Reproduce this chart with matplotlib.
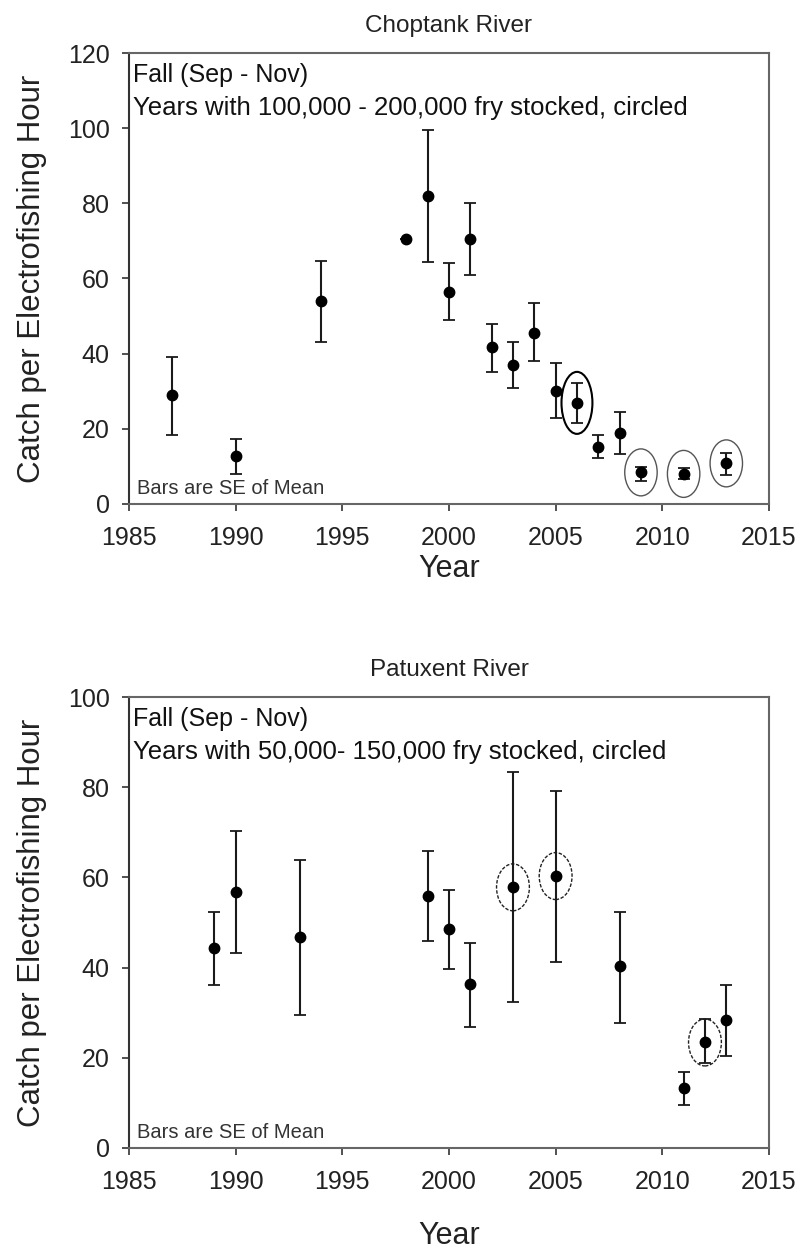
import numpy as np
import matplotlib
matplotlib.use("Agg")
import matplotlib.pyplot as plt
from matplotlib.patches import Ellipse

plt.rcParams['font.family'] = ['Liberation Sans', 'DejaVu Sans']

# Choptank River, fall catch per electrofishing hour
chop_year = [1987, 1990, 1994, 1998, 1999, 2000, 2001, 2002, 2003, 2004, 2005, 2006, 2007, 2008, 2009, 2011, 2013]
chop_mean = [29.0, 12.8, 54.1, 70.5, 81.9, 56.3, 70.5, 41.7, 37.0, 45.6, 30.1, 26.9, 15.2, 19.0, 8.4, 8.0, 10.8]
chop_upper = [39.2, 17.3, 64.7, np.nan, 99.5, 64.2, 80.1, 47.8, 43.0, 53.4, 37.4, 32.1, 18.4, 24.5, 9.9, 9.5, 13.6]
chop_lower = [18.4, 8.0, 43.0, np.nan, 64.4, 48.9, 60.9, 35.0, 30.8, 38.0, 22.8, 21.6, 12.3, 13.2, 6.2, 6.6, 7.7]
chop_circled = [2006, 2009, 2011, 2013]

# Patuxent River
pax_year = [1989, 1990, 1993, 1999, 2000, 2001, 2003, 2005, 2008, 2011, 2012, 2013]
pax_mean = [44.3, 56.7, 46.7, 55.9, 48.5, 36.3, 57.8, 60.3, 40.4, 13.2, 23.4, 28.4]
pax_upper = [52.3, 70.4, 63.9, 65.9, 57.2, 45.5, 83.3, 79.2, 52.3, 16.9, 28.6, 36.1]
pax_lower = [36.1, 43.2, 29.5, 46.0, 39.8, 26.9, 32.4, 41.3, 27.8, 9.5, 18.9, 20.4]
pax_circled = [2003, 2005, 2012]

fig = plt.figure(figsize=(8.01, 12.53), dpi=100)
ax1 = fig.add_axes([0.161, 0.5978, 0.799, 0.3599])
ax2 = fig.add_axes([0.161, 0.0838, 0.799, 0.3599])


def panel(ax, yr, m, up, lo, circled, ymax, title, line2, top_style, xlabpad):
    yr = np.array(yr); m = np.array(m); up = np.array(up); lo = np.array(lo)
    err = np.nan_to_num(np.vstack([m - lo, up - m]))
    ax.errorbar(yr, m, yerr=err, fmt='o', color='black', ms=7.5, ecolor='#1a1a1a',
                elinewidth=1.5, capsize=4.5, capthick=1.3, zorder=3)
    for c in circled:
        i = list(yr).index(c)
        if top_style:
            h = max(12.5, (up[i] - lo[i]) + 6)
            if c == circled[0]:
                e = Ellipse((c, m[i]), 1.45, h, fill=False, ec='black', lw=1.5)
            else:
                e = Ellipse((c, m[i]), 1.52, h, fill=False, ec='#555555', lw=1.0)
        else:
            e = Ellipse((c, m[i]), 1.54, 10.4, fill=False, ec='#222222', lw=1.0,
                        ls=(0, (2.5, 1.2)))
        ax.add_patch(e)
    ax.set_xlim(1985, 2015)
    ax.set_ylim(0, ymax)
    ax.set_xticks(range(1985, 2016, 5))
    ax.set_yticks(range(0, ymax + 1, 20))
    ax.tick_params(direction='out', length=5, width=1.2, labelsize=18, color='#333333',
                   labelcolor='#222222')
    ax.tick_params(axis='x', pad=11)
    ax.tick_params(axis='y', pad=9)
    for s in ax.spines.values():
        s.set_color('#666666')
        s.set_linewidth(1.5)
    ax.spines['left'].set_color('#333333')
    ax.set_title(title, fontsize=17.5, pad=15, color='#222222')
    ax.set_xlabel('Year', fontsize=22, labelpad=xlabpad, color='#222222')
    ax.set_ylabel('Catch per Electrofishing Hour', fontsize=22.5, labelpad=15, color='#222222')
    ax.text(0.007, 0.978, 'Fall (Sep - Nov)', transform=ax.transAxes, fontsize=18,
            va='top', ha='left', color='#111111')
    ax.text(0.007, 0.905, line2, transform=ax.transAxes, fontsize=18.5,
            va='top', ha='left', color='#111111')
    ax.text(0.012, 0.014, 'Bars are SE of Mean', transform=ax.transAxes, fontsize=14.5,
            va='bottom', ha='left', color='#333333')


panel(ax1, chop_year, chop_mean, chop_upper, chop_lower, chop_circled, 120,
      'Choptank River', 'Years with 100,000 - 200,000 fry stocked, circled', True, 3)
panel(ax2, pax_year, pax_mean, pax_upper, pax_lower, pax_circled, 100,
      'Patuxent River', 'Years with 50,000- 150,000 fry stocked, circled', False, 19)

fig.savefig('out.png', dpi=100)
